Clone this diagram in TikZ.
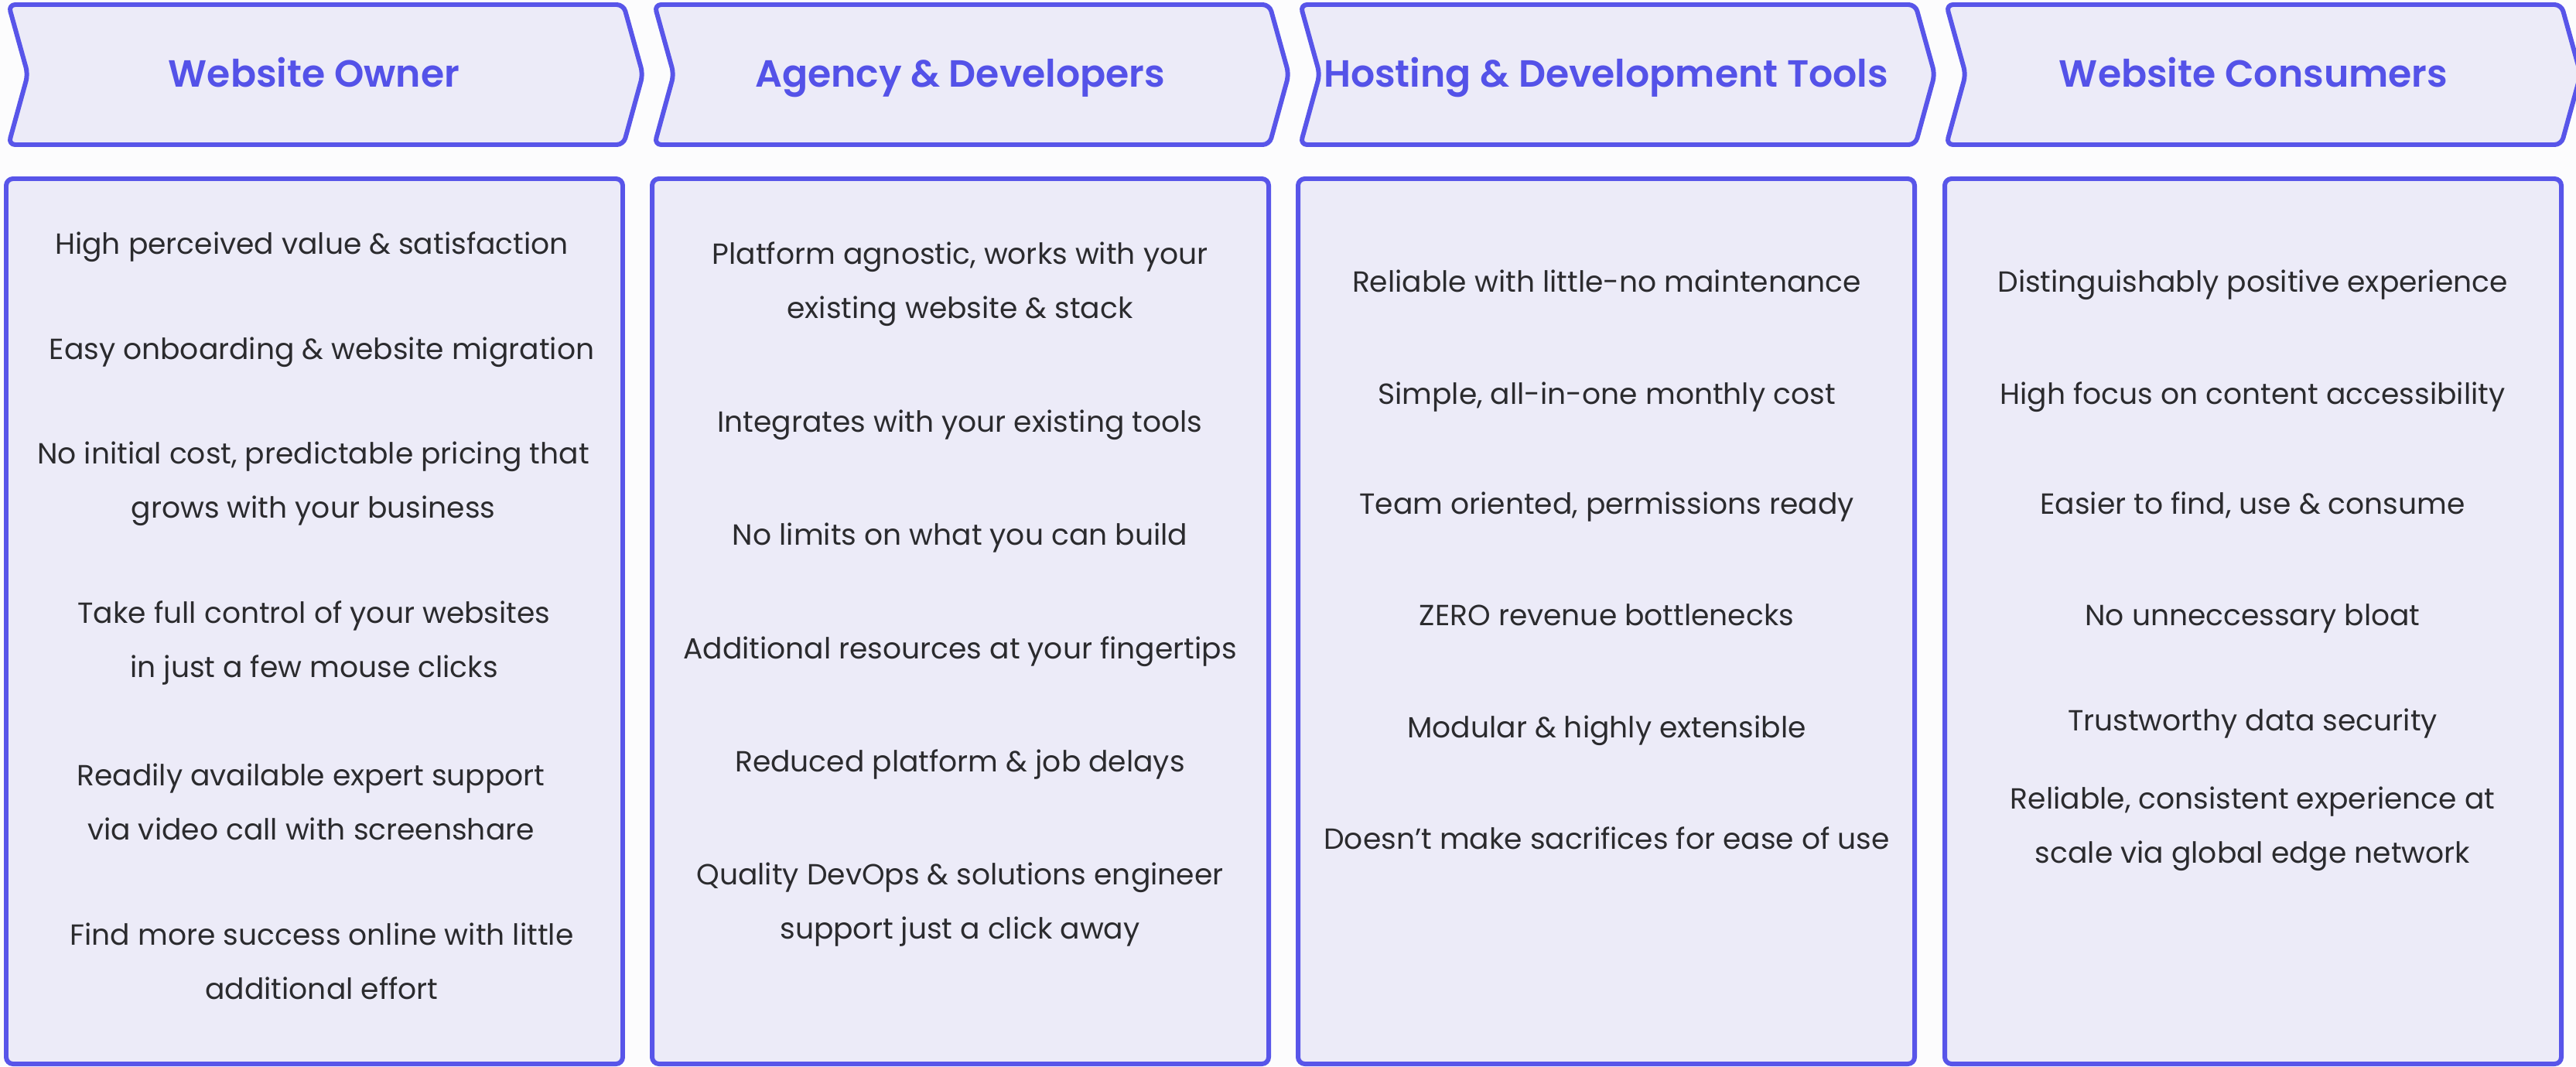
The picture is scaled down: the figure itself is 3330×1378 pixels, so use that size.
\documentclass[tikz,border=0pt]{standalone}
\usepackage{fontspec}
\setmainfont{Poppins}
\newfontfamily\headfont{Poppins SemiBold}
\definecolor{edgeblue}{HTML}{5855E9}
\definecolor{headblue}{HTML}{5452E8}
\definecolor{panel}{HTML}{ECEBF8}
\definecolor{ink}{HTML}{2B2B2E}
\definecolor{paper}{HTML}{FCFCFD}

\begin{document}
\begin{tikzpicture}[x=0.01cm,y=-0.01cm,
  stage/.style={draw=edgeblue,fill=panel,line width=1.7pt,rounded corners=2.5pt,line join=round},
  head/.style={text=headblue,text height=0.7em,text depth=0pt,font=\headfont\fontsize{13.9}{16}\selectfont},
  points/.style={text=ink,align=center,font=\fontsize{10.7}{19.9}\selectfont},
  point/.style={points,text height=0.7em,text depth=0pt}]
\useasboundingbox (0,0) rectangle (3330,1378);
\fill[paper] (0,0) rectangle (3330,1378);

% chevrons and boxes
\foreach \x in {11,846,1681,2516}
  \draw[stage] (\x,6) -- (\x+795,6) -- (\x+820,96) -- (\x+795,187) -- (\x,187) -- (\x+25,96) -- cycle;
\foreach \x in {8,843,1678,2514}
  \draw[stage] (\x,231) rectangle (\x+797,1375);

\node[head] (t1) at (406,100) {Website Owner};
\node[head] (t2) at (1241,100) {Agency \& Developers};
\node[head] (t3) at (2076,100) {Hosting \& Development Tools};
\node[head] (t4) at (2913,100) {Website Consumers};

\node[point] (o1) at (403,316) {High perceived value \& satisfaction};
\node[point] (o2) at (416,452) {Easy onboarding \& website migration};
\node[points] (o3) at (405,625) {No initial cost, predictable pricing that\\grows with your business};
\node[points] (o4) at (406,831) {Take full control of your websites\\in just a few mouse clicks};
\node[points] (o5) at (402,1036) {Readily available expert support\\via video call with screenshare};
\node[points] (o6) at (416,1242) {Find more success online with little\\additional effort};

\node[points] (a1) at (1241,367) {Platform agnostic, works with your\\existing website \& stack};
\node[point] (a2) at (1241,546) {Integrates with your existing tools};
\node[point] (a3) at (1241,692) {No limits on what you can build};
\node[point] (a4) at (1241,839) {Additional resources at your fingertips};
\node[point] (a5) at (1241,985) {Reduced platform \& job delays};
\node[points] (a6) at (1241,1169) {Quality DevOps \& solutions engineer\\support just a click away};

\node[point] (h1) at (2077,365) {Reliable with little-no maintenance};
\node[point] (h2) at (2077,510) {Simple, all-in-one monthly cost};
\node[point] (h3) at (2077,652) {Team oriented, permissions ready};
\node[point] (h4) at (2077,796) {ZERO revenue bottlenecks};
\node[point] (h5) at (2077,941) {Modular \& highly extensible};
\node[point] (h6) at (2077,1085) {Doesn’t make sacrifices for ease of use};

\node[point] (c1) at (2912,365) {Distinguishably positive experience};
\node[point] (c2) at (2912,510) {High focus on content accessibility};
\node[point] (c3) at (2912,652) {Easier to find, use \& consume};
\node[point] (c4) at (2912,796) {No unneccessary bloat};
\node[point] (c5) at (2912,932) {Trustworthy data security};
\node[points] (c6) at (2912,1071) {Reliable, consistent experience at\\scale via global edge network};
\end{tikzpicture}
\end{document}
